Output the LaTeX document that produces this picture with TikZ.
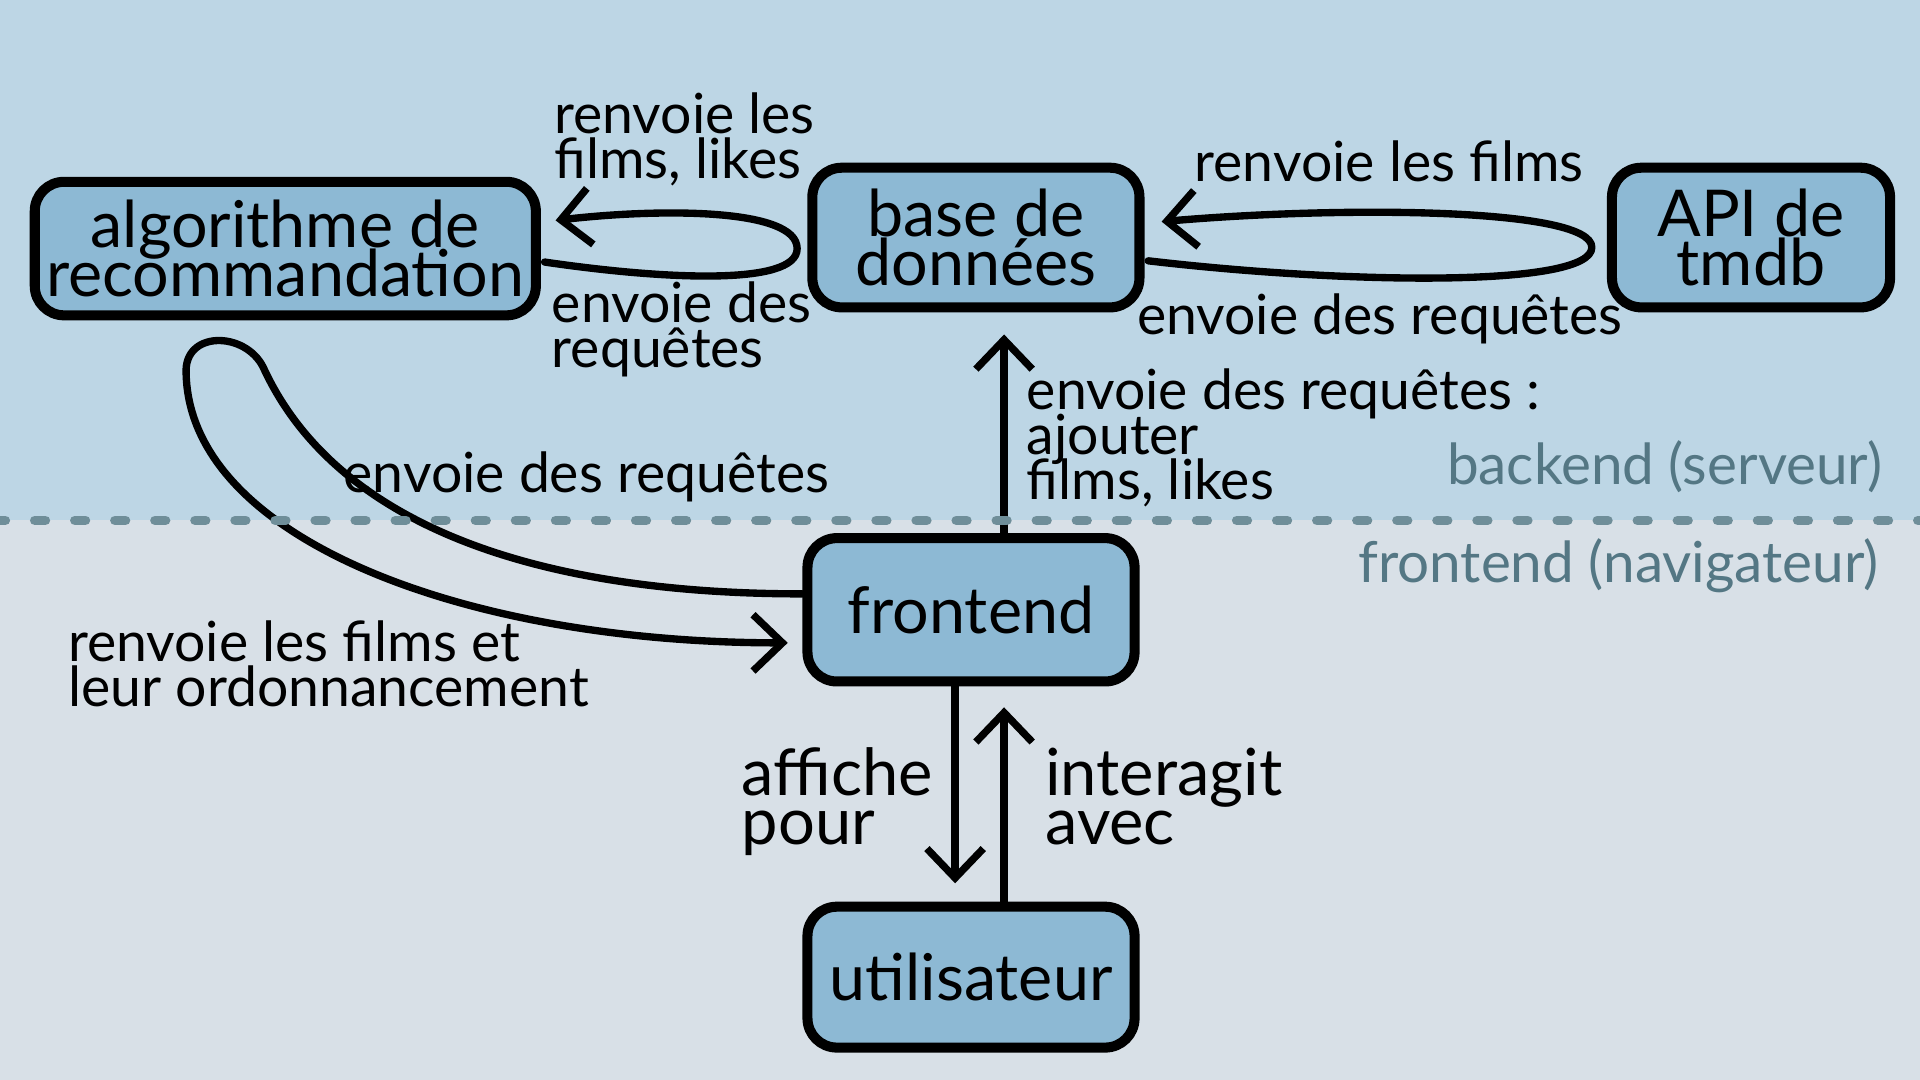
\documentclass[tikz,border=0pt]{standalone}
\usepackage{fontspec}
\setmainfont{Lato}
\usetikzlibrary{arrows.meta,calc}
\definecolor{bgtop}{HTML}{BDD6E5}
\definecolor{bgbot}{HTML}{D8E0E7}
\definecolor{nodefill}{HTML}{8DB9D4}
\definecolor{dotcol}{HTML}{6F8E99}
\definecolor{zonecol}{HTML}{547784}
\newcommand{\tightls}{\lineskiplimit=-100pt\relax}
\begin{document}
\begin{tikzpicture}[x=0.01cm,y=-0.01cm,
  box/.style={draw=black, line width=0.082cm, fill=nodefill, rounded corners=0.24cm,
    align=center, inner sep=0pt, font=\fontsize{15.0}{11.4}\selectfont\tightls},
  conn/.style={line width=0.06cm, line cap=round, line join=round},
  tip/.style={-{Straight Barb[length=0.24cm,width=0.46cm]}},
  lbl/.style={font=\fontsize{12.85}{10.5}\selectfont\tightls, align=left, inner sep=0pt, anchor=base west},
  biglbl/.style={font=\fontsize{15.1}{11.4}\selectfont\tightls, align=left, inner sep=0pt, anchor=base west},
  zone/.style={font=\fontsize{13.15}{11}\selectfont, text=zonecol, inner sep=0pt, anchor=base east}
]
\useasboundingbox (0,0) rectangle (1568,882);
\fill[bgtop] (0,0) rectangle (1568,425);
\fill[bgbot] (0,425) rectangle (1568,882);

% nodes
\node[box, minimum width=4.09cm, minimum height=1.09cm] (algo) at (233,203) {algorithme de\\recommandation};
\node[box, minimum width=2.67cm, minimum height=1.14cm] (db) at (797,194) {base de\\données};
\node[box, minimum width=2.27cm, minimum height=1.14cm] (api) at (1430,194) {API de\\tmdb};
\node[box, minimum width=2.67cm, minimum height=1.17cm] (fr) at (793,498) {frontend};
\node[box, minimum width=2.67cm, minimum height=1.15cm] (usr) at (793,798) {utilisateur};

% algo <-> db loop
\draw[conn,tip] ($(algo.east)+(3,11)$) .. controls (540,228) and (651,234) .. (651,203)
  .. controls (651,170) and (540,170) .. ($(algo.east)+(12,-23)$);
% db <-> api loop
\draw[conn,tip] ($(db.east)+(3,19)$) .. controls (1100,232) and (1300,235) .. (1300,202)
  .. controls (1300,170) and (1100,168) .. ($(db.east)+(14,-13)$);
% frontend <-> algo loop
\draw[conn,tip] ($(fr.west)+(0,-13)$) .. controls (420,485) and (270,420) .. (215,300)
  .. controls (200,270) and (150,270) .. (152,305)
  .. controls (155,440) and (380,525) .. ($(fr.west)+(-12,27)$);
% frontend -> db
\draw[conn,tip] ($(fr.north)+(27,0)$) -- ($(db.south)+(23,18)$);
% frontend -> user
\draw[conn,tip] ($(fr.south)+(-13,0)$) -- ($(usr.north)+(-13,-15)$);
% user -> frontend
\draw[conn,tip] ($(usr.north)+(27,0)$) -- ($(fr.south)+(27,17)$);

% separator
\draw[dotcol, line width=0.08cm, line cap=round, dash pattern=on 0.085cm off 0.242cm] (-4.25,425) -- (1580,425);

% labels
\node[lbl] (l1) at (452,146) {renvoie les\\films, likes};
\node[lbl] (l2) at (450,300) {envoie des\\requêtes};
\node[lbl] (l3) at (975,148) {renvoie les films};
\node[lbl] (l4) at (928,273) {envoie des requêtes};
\node[lbl] (l5) at (838,408) {envoie des requêtes :\\ajouter\\films, likes};
\node[lbl] (l6) at (280,402) {envoie des requêtes};
\node[lbl] (l7) at (55,577) {renvoie les films et\\leur ordonnancement};
\node[biglbl] (l8) at (605,690) {affiche\\pour};
\node[biglbl] (l9) at (853,690) {interagit\\avec};
\node[zone] (zb) at (1538,396) {backend (serveur)};
\node[zone] (zf) at (1535,476) {frontend (navigateur)};
\end{tikzpicture}
\end{document}
